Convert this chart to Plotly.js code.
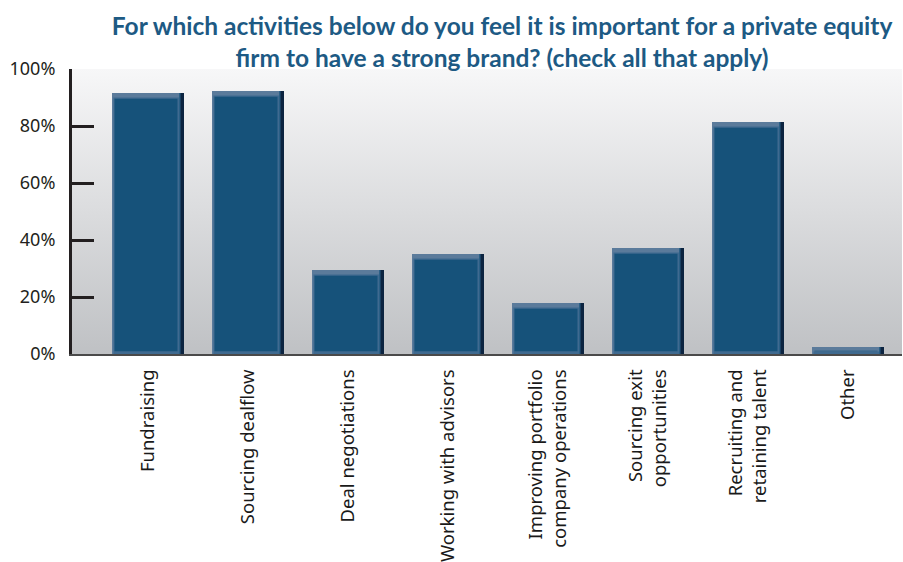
<!DOCTYPE html>
<html>
<head>
<meta charset="utf-8">
<script src="https://cdn.plot.ly/plotly-3.0.1.min.js"></script>
<style>html,body{margin:0;padding:0;background:#fff;}#chart{width:903px;height:562px;}</style>
</head>
<body>
<div id="chart"></div>
<script>
var categories = [
  "Fundraising",
  "Sourcing dealflow",
  "Deal negotiations",
  "Working with advisors",
  "Improving portfolio<br>company operations",
  "Sourcing exit<br>opportunities",
  "Recruiting and<br>retaining talent",
  "Other"
];
var shares = [91.6, 92.3, 29.5, 35.1, 17.9, 37.2, 81.4, 2.5];
var titleText = "For which activities below do you feel it is important for a private equity<br>firm to have a strong brand? (check all that apply)";

var gradSvg = '<svg xmlns="http://www.w3.org/2000/svg" width="10" height="100" preserveAspectRatio="none">' +
  '<defs><linearGradient id="g" x1="0" y1="0" x2="0" y2="1">' +
  '<stop offset="0" stop-color="#f7f7f8"/><stop offset="1" stop-color="#bfc1c4"/>' +
  '</linearGradient></defs><rect width="10" height="100" fill="url(#g)"/></svg>';
var gradUri = 'data:image/svg+xml;base64,' + btoa(gradSvg);

var traces = [
  { type: 'bar', x: categories, y: shares, width: 0.72,
    marker: { color: '#0c2440', line: { width: 0 } }, hoverinfo: 'skip' },
  { type: 'bar', x: categories, y: shares, width: 0.685, offset: -0.36,
    marker: { color: '#2a5f86', line: { width: 0 } }, hoverinfo: 'skip' },
  { type: 'bar', x: categories, y: shares, width: 0.67, offset: -0.36,
    marker: { color: '#5b7b9b', line: { width: 0 } }, hoverinfo: 'skip' },
  { type: 'bar', x: categories, y: shares.map(function(v){ return Math.max(v - 1.6, 0.2); }),
    width: 0.655, offset: -0.345,
    marker: { color: '#3f6a90', line: { width: 0 } }, hoverinfo: 'skip' },
  { type: 'bar', x: categories, y: shares.map(function(v){ return Math.max(v - 2.0 - 1.0, 0.1); }),
    base: 1.0, width: 0.63, offset: -0.335,
    marker: { color: '#16527a', line: { width: 0 } }, hoverinfo: 'skip' }
];

var layout = {
  width: 903, height: 562,
  margin: { l: 72, r: 1, t: 69, b: 208, pad: 0 },
  paper_bgcolor: '#ffffff',
  plot_bgcolor: '#ffffff',
  showlegend: false,
  barmode: 'overlay',
  title: {
    text: titleText,
    font: { family: 'Lato', size: 24.5, color: '#1d5a84', weight: 700 },
    x: 0.556, xref: 'container', xanchor: 'center',
    y: 0.937, yref: 'container', yanchor: 'middle'
  },
  images: [{
    source: gradUri, xref: 'paper', yref: 'paper', x: 0, y: 1,
    sizex: 1, sizey: 1, sizing: 'stretch', xanchor: 'left', yanchor: 'top', layer: 'below'
  }],
  xaxis: {
    type: 'category',
    range: [-0.76, 7.54],
    showline: true, linecolor: '#4a4a4a', linewidth: 2,
    ticks: '', showgrid: false, zeroline: false,
    tickangle: -90,
    tickfont: { family: 'Noto Sans', size: 18.5, color: '#1a1a1a' },
    ticklabelstandoff: 6
  },
  yaxis: {
    range: [0, 100],
    dtick: 20, tick0: 0,
    ticksuffix: '%',
    ticks: 'inside', ticklen: 22, tickwidth: 3, tickcolor: '#231f20',
    showline: true, linecolor: '#231f20', linewidth: 3,
    showgrid: false, zeroline: false,
    tickfont: { family: 'Noto Sans', size: 18, color: '#231f20' },
    ticklabelstandoff: 10
  }
};

Plotly.newPlot('chart', traces, layout, { displayModeBar: false, staticPlot: true });
</script>
</body>
</html>
